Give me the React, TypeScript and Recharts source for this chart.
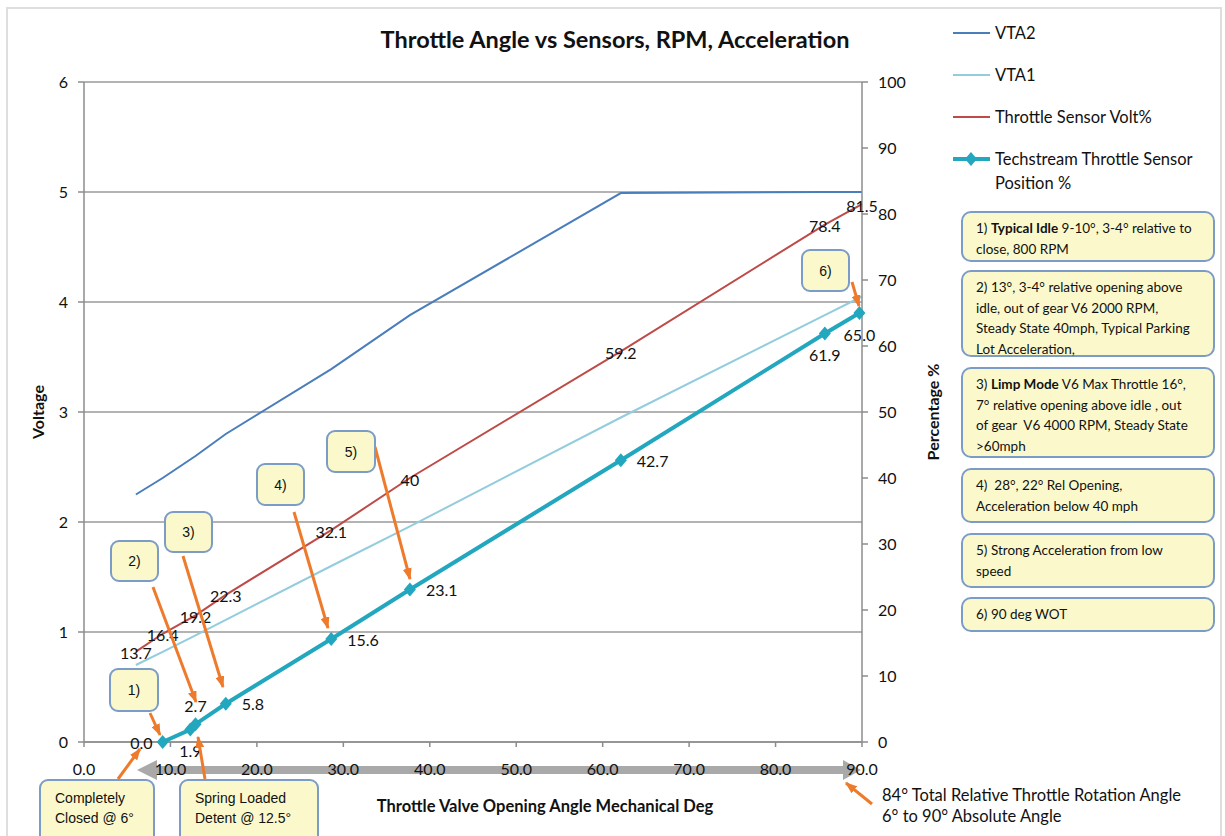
import React from 'react'
import { LineChart, Line, XAxis, YAxis, CartesianGrid, LabelList } from 'recharts'

// sensor readings vs absolute throttle angle (deg)
const sensorAngle = [6, 9.1, 12.9, 16.4, 28.6, 37.7, 62.1, 85.7, 90]
const vta2Volts = [2.25, 2.4, 2.6, 2.8, 3.39, 3.88, 4.99, 5.0, 5.0]
const vta1Volts = [0.7, 0.82, 0.97, 1.11, 1.6, 1.96, 2.95, 3.88, 4.05]
const sensorVoltPct = [13.7, 16.4, 19.2, 22.3, 32.1, 40, 59.2, 78.4, 81.5]

// techstream position reading
const techAngle = [9.1, 12.3, 12.9, 16.4, 28.6, 37.7, 62.1, 85.7, 89.7]
const techPct = [0.0, 1.9, 2.7, 5.8, 15.6, 23.1, 42.7, 61.9, 65.0]

const angleTicks = [0, 10, 20, 30, 40, 50, 60, 70, 80, 90]
const voltTicks = [0, 1, 2, 3, 4, 5, 6]
const pctTicks = [0, 10, 20, 30, 40, 50, 60, 70, 80, 90, 100]

// where each techstream value label sits relative to its marker
const techLabelSide = ['left', 'below', 'above', 'right', 'right', 'right', 'right', 'below', 'below']

const sensorRows = sensorAngle.map((a, i) => ({ angle: a, vta2: vta2Volts[i], vta1: vta1Volts[i], volt: sensorVoltPct[i] }))
const techRows = techAngle.map((a, i) => ({ angle: a, tech: techPct[i] }))

const FONT = 'Lato, "Open Sans", sans-serif'
const TEAL = '#22a7bf'
const NOTE_BG = '#fbf9cc'
const NOTE_BORDER = '#7a9cc6'
const ORANGE = '#ee7b2c'
const AXIS = '#8c8c8c'

const series = [
  { key: 'vta2', name: 'VTA2', color: '#4a7ebb' },
  { key: 'vta1', name: 'VTA1', color: '#93cddd' },
  { key: 'volt', name: 'Throttle Sensor Volt%', color: '#be4b48' },
  { key: 'tech', name: 'Techstream Throttle Sensor Position %', color: TEAL },
]

function Diamond(p: any) {
  if (p.cx == null) return null
  return <path key={p.index} d={`M${p.cx},${p.cy - 7}L${p.cx + 6},${p.cy}L${p.cx},${p.cy + 7}L${p.cx - 6},${p.cy}Z`} fill={TEAL} />
}

function VoltLabel(p: any) {
  return <text x={p.x} y={p.y + 1} textAnchor="middle" dominantBaseline="central" fontSize={16} fill="#111">{String(p.value)}</text>
}

function TechLabel(p: any) {
  const side = techLabelSide[p.index] || 'right'
  let x = p.x, y = p.y, anchor: any = 'middle'
  if (side === 'left') { x -= 10; anchor = 'end' }
  if (side === 'right') { x += 16; anchor = 'start' }
  if (side === 'below') y += 21
  if (side === 'above') y -= 19
  return <text x={x} y={y} textAnchor={anchor} dominantBaseline="central" fontSize={16} fill="#111">{Number(p.value).toFixed(1)}</text>
}

function LegendBox() {
  return (
    <div style={{ position: 'absolute', left: 952, top: 21, width: 270, fontFamily: FONT, fontSize: 16.5, color: '#111' }}>
      {series.map(s => {
        const isTech = s.key === 'tech'
        return (
          <div key={s.key} style={{ display: 'flex', alignItems: 'flex-start', height: 42 }}>
            <svg width={40} height={24} style={{ flex: 'none' }}>
              <line x1={1} y1={12} x2={38} y2={12} stroke={s.color} strokeWidth={isTech ? 4 : 2} />
              {isTech && <path d="M19,5L25,12L19,19L13,12Z" fill={TEAL} />}
            </svg>
            <span style={{ width: 218, lineHeight: '24px', marginLeft: 3 }}>{s.name}</span>
          </div>
        )
      })}
    </div>
  )
}

function Note({ top, height, children }: { top: number; height: number; children: React.ReactNode }) {
  return (
    <div style={{
      position: 'absolute', left: 961, top, width: 254, height, boxSizing: 'border-box',
      border: `2px solid ${NOTE_BORDER}`, borderRadius: 10, background: NOTE_BG,
      padding: '5px 0 0 13px', fontFamily: FONT, fontSize: 13.5, lineHeight: '20.5px', color: '#111', whiteSpace: 'nowrap',
    }}>{children}</div>
  )
}

function Callout({ x, y, w, h, text }: { x: number; y: number; w: number; h: number; text: string }) {
  return (
    <g>
      <rect x={x} y={y} width={w} height={h} rx={8} fill={NOTE_BG} stroke={NOTE_BORDER} strokeWidth={2} />
      <text x={x + w / 2} y={y + h / 2} textAnchor="middle" dominantBaseline="central" fontSize={14} fontFamily="Liberation Sans, Arial" fill="#111">{text}</text>
    </g>
  )
}

function Arrow({ x1, y1, x2, y2 }: { x1: number; y1: number; x2: number; y2: number }) {
  return <line x1={x1} y1={y1} x2={x2} y2={y2} stroke={ORANGE} strokeWidth={3} markerEnd="url(#orangeHead)" />
}

const lineColor = (k: string) => series.find(s => s.key === k)!.color
const lineName = (k: string) => series.find(s => s.key === k)!.name

export default function App() {
  return (
    <div style={{ position: 'absolute', left: 0, top: 0, width: 1225, height: 836, overflow: 'hidden', background: '#fff' }}>
      <div style={{ position: 'absolute', left: 6, top: 7, width: 1216, height: 840, boxSizing: 'border-box', border: '2px solid #dedede' }} />

      {/* grey double arrow behind the angle ticks */}
      <svg width={1225} height={836} style={{ position: 'absolute', left: 0, top: 0 }}>
        <polygon points="137,770 157,760 157,766 843,766 843,760 861,770 843,780 843,774 157,774 157,780" fill="#a9a9a9" />
      </svg>

      <div style={{ position: 'absolute', left: 0, top: 0 }}>
        <LineChart width={1225} height={836} margin={{ top: 82, right: 303, bottom: 54, left: 0 }} style={{ fontFamily: FONT }}>
          <CartesianGrid yAxisId="v" vertical={false} stroke="#9a9a9a" strokeWidth={1.5} />
          <XAxis
            dataKey="angle" type="number" domain={[0, 90]} ticks={angleTicks} allowDuplicatedCategory={false}
            tickFormatter={(v: number) => v.toFixed(1)} tick={{ fill: '#111', fontSize: 16 }}
            stroke={AXIS} strokeWidth={1.5} tickSize={5} tickMargin={17} height={40}
            label={{ content: (p: any) => <text x={545} y={p.viewBox.y + 64} textAnchor="middle" dominantBaseline="central" fontSize={16.5} fontWeight={700} fill="#111">Throttle Valve Opening Angle Mechanical Deg</text> }}
          />
          <YAxis
            yAxisId="v" domain={[0, 6]} ticks={voltTicks} width={84} tick={{ fill: '#111', fontSize: 16 }}
            stroke={AXIS} strokeWidth={1.5} tickSize={6} tickMargin={10}
            label={{ content: (p: any) => { const cx = p.viewBox.x + 37, cy = p.viewBox.y + p.viewBox.height / 2; return <text x={cx} y={cy} transform={`rotate(-90 ${cx} ${cy})`} textAnchor="middle" dominantBaseline="central" fontSize={16} fontWeight={700} fill="#111">Voltage</text> } }}
          />
          <YAxis
            yAxisId="p" orientation="right" domain={[0, 100]} ticks={pctTicks} width={60} tick={{ fill: '#111', fontSize: 16 }}
            stroke={AXIS} strokeWidth={1.5} tickSize={6} tickMargin={10}
            label={{ content: (p: any) => { const cx = p.viewBox.x + 70, cy = p.viewBox.y + p.viewBox.height / 2; return <text x={cx} y={cy} transform={`rotate(-90 ${cx} ${cy})`} textAnchor="middle" dominantBaseline="central" fontSize={16} fontWeight={700} fill="#111">Percentage %</text> } }}
          />
          <Line data={sensorRows} yAxisId="v" dataKey="vta2" name={lineName('vta2')} stroke={lineColor('vta2')} strokeWidth={2} dot={false} activeDot={false} isAnimationActive={false} />
          <Line data={sensorRows} yAxisId="v" dataKey="vta1" name={lineName('vta1')} stroke={lineColor('vta1')} strokeWidth={2} dot={false} activeDot={false} isAnimationActive={false} />
          <Line data={sensorRows} yAxisId="p" dataKey="volt" name={lineName('volt')} stroke={lineColor('volt')} strokeWidth={2} dot={false} activeDot={false} isAnimationActive={false}>
            <LabelList dataKey="volt" content={VoltLabel} />
          </Line>
          <Line data={techRows} yAxisId="p" dataKey="tech" name={lineName('tech')} stroke={TEAL} strokeWidth={4} dot={Diamond} activeDot={false} isAnimationActive={false}>
            <LabelList dataKey="tech" content={TechLabel} />
          </Line>
        </LineChart>
      </div>

      <LegendBox />

      <div style={{ position: 'absolute', left: 0, top: 24, width: 1230, textAlign: 'center', fontFamily: FONT, fontWeight: 700, fontSize: 23.5, lineHeight: '30px', color: '#111' }}>
        Throttle Angle vs Sensors, RPM, Acceleration
      </div>

      {/* callouts and arrows */}
      <svg width={1225} height={836} style={{ position: 'absolute', left: 0, top: 0 }}>
        <defs>
          <marker id="orangeHead" markerWidth={4} markerHeight={3} refX={3.6} refY={1.5} orient="auto">
            <path d="M0,0L4,1.5L0,3Z" fill={ORANGE} />
          </marker>
        </defs>
        <Arrow x1={150} y1={713} x2={160} y2={735} />
        <Arrow x1={153} y1={587} x2={196} y2={702} />
        <Arrow x1={183} y1={556} x2={223} y2={687} />
        <Arrow x1={294} y1={512} x2={328} y2={628} />
        <Arrow x1={375} y1={447} x2={410} y2={579} />
        <Arrow x1={852} y1={282} x2={859} y2={306} />
        <Arrow x1={118} y1={779} x2={140} y2={749} />
        <Arrow x1={205} y1={779} x2={198} y2={737} />
        <Arrow x1={872} y1={804} x2={846} y2={783} />
        <Callout x={110} y={669} w={48} h={42} text="1)" />
        <Callout x={111} y={541} w={47} h={40} text="2)" />
        <Callout x={165} y={512} w={47} h={40} text="3)" />
        <Callout x={257} y={464} w={47} h={41} text="4)" />
        <Callout x={327} y={431} w={48} h={41} text="5)" />
        <Callout x={802} y={250} w={47} h={41} text="6)" />
        <rect x={40} y={780} width={114} height={70} rx={8} fill={NOTE_BG} stroke={NOTE_BORDER} strokeWidth={2} />
        <text x={55} y={803} fontSize={14} fontFamily="Liberation Sans, Arial" fill="#111">Completely</text>
        <text x={55} y={823} fontSize={14} fontFamily="Liberation Sans, Arial" fill="#111">Closed @ 6°</text>
        <rect x={180} y={780} width={138} height={70} rx={8} fill={NOTE_BG} stroke={NOTE_BORDER} strokeWidth={2} />
        <text x={195} y={803} fontSize={14} fontFamily="Liberation Sans, Arial" fill="#111">Spring Loaded</text>
        <text x={195} y={823} fontSize={14} fontFamily="Liberation Sans, Arial" fill="#111">Detent @ 12.5°</text>
        <text x={882} y={801} fontSize={16.5} fontFamily={FONT} fill="#111">84° Total Relative Throttle Rotation Angle</text>
        <text x={882} y={822} fontSize={16.5} fontFamily={FONT} fill="#111">6° to 90° Absolute Angle</text>
      </svg>

      <Note top={211} height={51}>
        <div>1) <b>Typical Idle</b> 9-10°, 3-4° relative to</div>
        <div>close, 800 RPM</div>
      </Note>
      <Note top={270} height={87}>
        <div>2) 13°, 3-4° relative opening above</div>
        <div>idle, out of gear V6 2000 RPM,</div>
        <div>Steady State 40mph, Typical Parking</div>
        <div>Lot Acceleration,</div>
      </Note>
      <Note top={367} height={91}>
        <div>3) <b>Limp Mode</b> V6 Max Throttle 16°,</div>
        <div>7° relative opening above idle , out</div>
        <div>of gear&nbsp; V6 4000 RPM, Steady State</div>
        <div>&gt;60mph</div>
      </Note>
      <Note top={468} height={55}>
        <div>4)&nbsp; 28°, 22° Rel Opening,</div>
        <div>Acceleration below 40 mph</div>
      </Note>
      <Note top={533} height={55}>
        <div>5) Strong Acceleration from low</div>
        <div>speed</div>
      </Note>
      <Note top={597} height={35}>
        <div>6) 90 deg WOT</div>
      </Note>
    </div>
  )
}
